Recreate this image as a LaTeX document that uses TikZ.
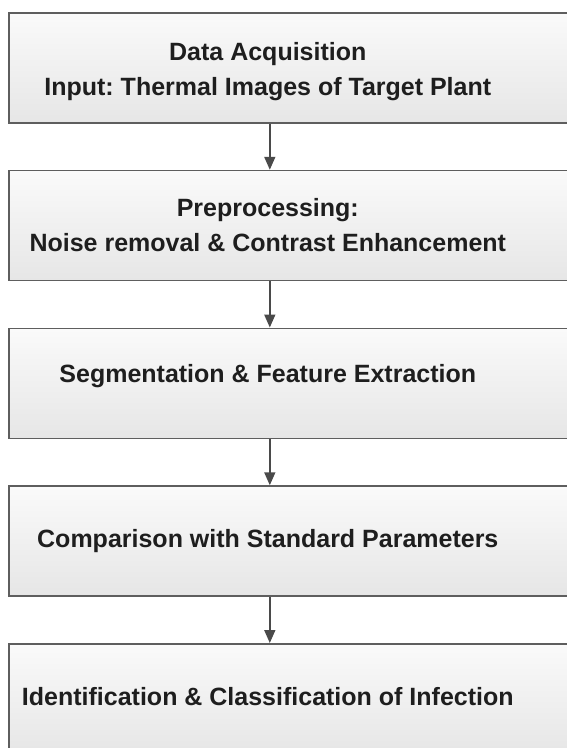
\documentclass[tikz,border=0pt]{standalone}
\usepackage{fontspec}
\setmainfont{Liberation Sans}
\usetikzlibrary{arrows.meta}

\definecolor{boxline}{HTML}{5E5E5E}
\definecolor{boxtop}{HTML}{FAFAFA}
\definecolor{boxbottom}{HTML}{E6E6E6}
\definecolor{arrowgray}{HTML}{4A4A4A}
\definecolor{textdark}{HTML}{1E1E1E}

\begin{document}
\begin{tikzpicture}[x=1pt, y=-1pt,
	stage/.style={rectangle, draw=boxline, line width=1.6pt, top color=boxtop, bottom color=boxbottom, minimum width=600pt, minimum height=110pt, anchor=north west, inner sep=0pt},
	caption/.style={xshift=-41pt, align=center, text=textdark, font=\fontsize{25}{35}\selectfont\bfseries\frenchspacing},
	flow/.style={-{Triangle[width=11pt,length=13pt]}, line width=1.6pt, draw=arrowgray}]
			\clip (0,0) rectangle (567,748);
			\useasboundingbox (0,0) rectangle (567,748);
			\node[stage, label={[caption, yshift=-4pt]center:{Data Acquisition\\Input: Thermal Images of Target Plant}}](acq) at (8,12){};
			\node[stage, label={[caption]center:{Preprocessing:\\Noise removal \& Contrast Enhancement}}](pre) at (8,169.75){};
			\node[stage, label={[caption, yshift=7pt]center:{Segmentation \& Feature Extraction}}](seg) at (8,327.5){};
			\node[stage, label={[caption]center:{Comparison with Standard Parameters}}](cmp) at (8,485.25){};
			\node[stage, label={[caption, yshift=2pt]center:{Identification \& Classification of Infection}}](cls) at (8,643){};
			\draw[flow] ([xshift=-39pt]acq.south) -- ([xshift=-39pt]pre.north);
			\draw[flow] ([xshift=-39pt]pre.south) -- ([xshift=-39pt]seg.north);
			\draw[flow] ([xshift=-39pt]seg.south) -- ([xshift=-39pt]cmp.north);
			\draw[flow] ([xshift=-39pt]cmp.south) -- ([xshift=-39pt]cls.north);
\end{tikzpicture}
\end{document}
